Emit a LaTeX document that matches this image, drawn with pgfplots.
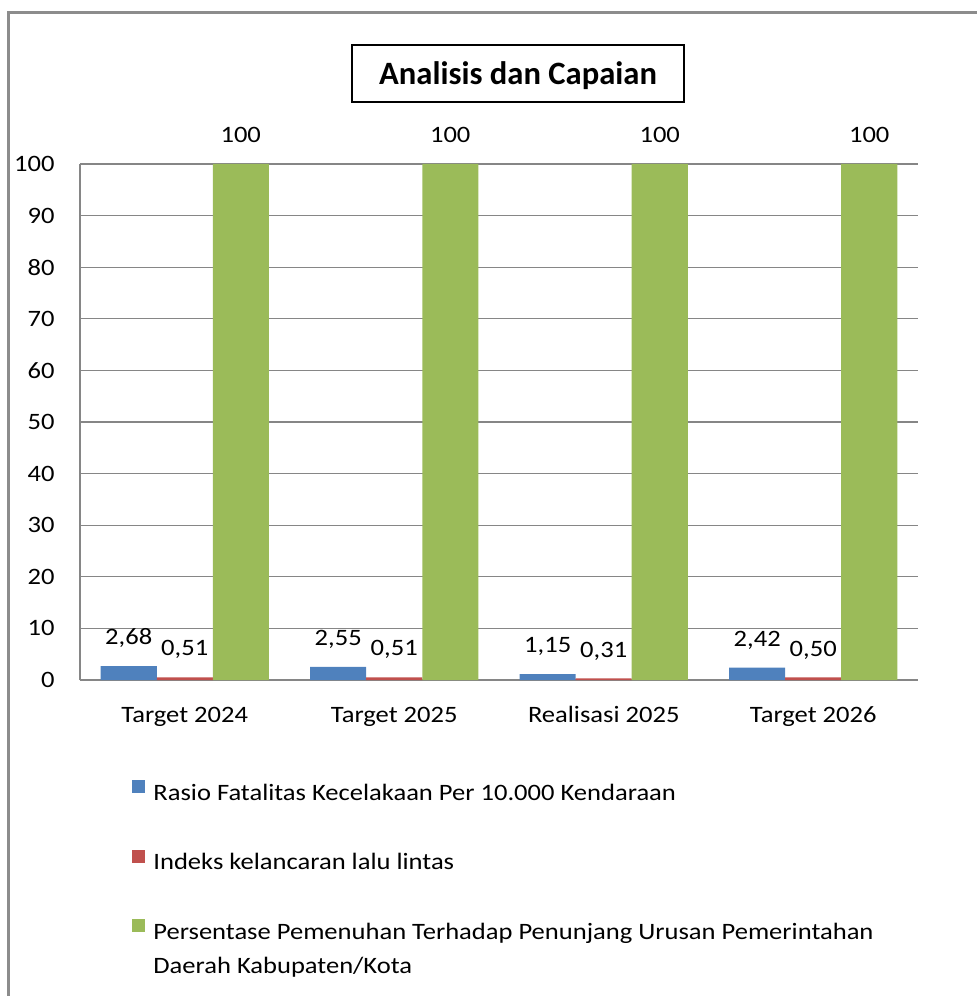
\documentclass[border=0pt]{standalone}
\usepackage{fontspec}
\setmainfont{Carlito}[FakeStretch=1.13]
\newfontfamily\titlefont{Carlito}
\usepackage{pgfplots}
\pgfplotsset{compat=1.18}
\definecolor{cblue}{HTML}{4F81BD}
\definecolor{cred}{HTML}{C0504D}
\definecolor{cgreen}{HTML}{9BBB59}
\definecolor{cgrid}{HTML}{868686}
\definecolor{cframe}{HTML}{8C8C8C}
\newcommand{\fs}{\fontsize{11.75}{17}\selectfont}
\begin{document}
\begin{tikzpicture}
\path[use as bounding box] (0,0) rectangle (488.5pt,498pt);
\begin{axis}[
  at={(40pt,158pt)}, anchor=south west,
  scale only axis, width=419pt, height=258pt,
  xmin=-0.5, xmax=3.5, ymin=0, ymax=100,
  ybar=0pt, bar width=28pt,
  xtick={0,1,2,3},
  xticklabels={Target 2024,Target 2025,Realisasi 2025,Target 2026},
  ytick={0,10,...,100},
  major tick length=0pt,
  axis x line*=bottom, axis y line*=left,
  axis line style={draw=cgrid, line width=0.6pt, -},
  ymajorgrids, grid style={draw=cgrid, line width=0.6pt},
  ticklabel style={font=\fs, text=black},
  /pgf/number format/assume math mode=true,
  yticklabel style={anchor=east, inner sep=0pt, xshift=-12.5pt},
  xticklabel style={anchor=base, inner sep=0pt, yshift=-21pt},
  nodes near coords,
  point meta=explicit symbolic,
  every node near coord/.append style={font=\fs, inner sep=0pt, text depth=0pt, yshift=10.5pt, text=black},
  legend image code/.code={\fill[#1] (0pt,0.5pt) rectangle (6.5pt,7pt);},
  legend style={at={(axis description cs:0.06205,-0.1938)}, anchor=north west, draw=none, fill=none, inner sep=0pt, row sep=21.75pt, column sep=4pt, font=\fs, nodes={inner sep=0pt, text height=9pt, text depth=3pt}},
  legend cell align=left,
]
\addplot[fill=cblue, draw=none] coordinates {(0,2.68)[2,68] (1,2.55)[2,55] (2,1.15)[1,15] (3,2.42)[2,42]};
\addplot[fill=cred, draw=none] coordinates {(0,0.51)[0,51] (1,0.51)[0,51] (2,0.31)[0,31] (3,0.50)[0,50]};
\addplot[fill=cgreen, draw=none] coordinates {(0,100)[100] (1,100)[100] (2,100)[100] (3,100)[100]};
\addlegendentry{Rasio Fatalitas Kecelakaan Per 10.000 Kendaraan}
\addlegendentry{Indeks kelancaran lalu lintas}
\addlegendentry{\vtop{\hbox{Persentase Pemenuhan Terhadap Penunjang Urusan Pemerintahan}\hbox{Daerah Kabupaten/Kota}}}
\end{axis}
\draw[cframe, line width=1.5pt] (4pt,-5pt) -- (4pt,491.5pt) -- (495pt,491.5pt);
\node[draw=black, line width=1pt, minimum width=166pt, minimum height=28.5pt, inner sep=0pt] at (259pt,461.25pt) {};
\node[anchor=base, inner sep=0pt, font=\titlefont\bfseries\fontsize{16.3}{19}\selectfont] at (259pt,455.5pt) {Analisis dan Capaian};
\end{tikzpicture}
\end{document}
